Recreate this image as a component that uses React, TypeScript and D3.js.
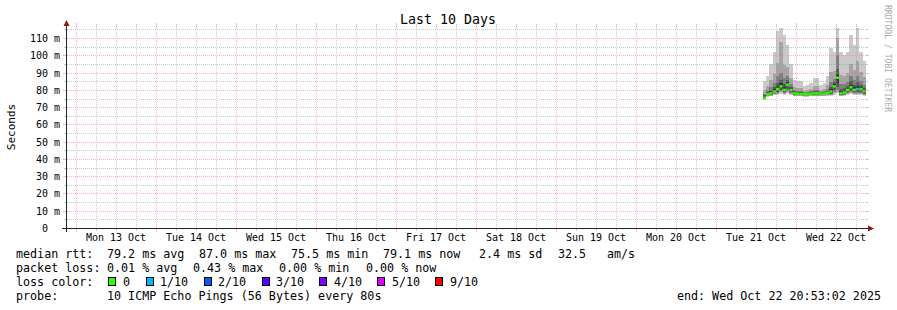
import React from 'react';
import * as d3 from 'd3';

// ---------- data ----------
const startTime = new Date(2025, 9, 12, 20, 53, 2);
const endTime = new Date(2025, 9, 22, 20, 53, 2);
const dataStart = new Date(2025, 9, 21, 14, 0, 0); // hourly columns from here

// sorted ping values per column (ms): p10 (max) ... p1 (min)
const pingMax = [85, 88, 95, 102, 114, 116, 112, 106, 95, 86, 85, 85, 82, 83, 84, 87, 87, 83, 84, 88, 104, 102, 116, 102, 100, 102, 112, 106, 116, 102, 97];
const ping9 = [79.8, 82.2, 85.7, 89.4, 95.6, 108, 94.4, 93.4, 86.8, 81.6, 81, 80.9, 79.5, 80, 80.6, 82, 82, 80.1, 80.6, 82.6, 90.2, 91, 110, 88.8, 88.2, 89.9, 95.2, 91.7, 96.5, 90.2, 87.2];
const ping8 = [77.6, 79.8, 81.7, 84.1, 87.9, 89.5, 87, 88.1, 83.3, 79.8, 79.4, 79.2, 78.5, 78.7, 79.2, 80, 80, 79, 79.2, 80.4, 84.5, 86.4, 100, 83.3, 83.2, 84.8, 88.2, 85.7, 88.3, 85.2, 83.1];
const ping7 = [76.8, 78.8, 79.5, 81.6, 84.2, 85.7, 83.5, 85.6, 81.8, 79.1, 78.8, 78.6, 78.3, 78.4, 78.7, 79.2, 79.2, 78.6, 78.7, 79.5, 81.8, 84.3, 92, 80.7, 81, 82.5, 84.9, 82.9, 84.4, 83, 81.2];
const ping6 = [76.3, 78.3, 79.1, 80.3, 82.2, 83.8, 81.7, 84.3, 81, 78.7, 78.5, 78.3, 78.1, 78.1, 78.4, 78.8, 78.8, 78.4, 78.4, 79, 80.4, 83.2, 89, 79.4, 79.8, 81.3, 83.1, 81.4, 82.3, 81.8, 80.2];
const ping5 = [75.3, 77.2, 77.6, 78.6, 79.8, 81.2, 79.5, 82, 79.5, 77.6, 77.4, 77.2, 77.1, 77.1, 77.4, 77.6, 77.6, 77.4, 77.4, 77.8, 78.2, 81, 84, 77.6, 78, 79.2, 80.5, 79.2, 79.5, 79.8, 78.4];
const ping4 = [75, 76.8, 77.2, 78.2, 79, 80, 78.8, 80.5, 78.8, 77.3, 77.1, 77, 76.9, 76.9, 77.1, 77.3, 77.3, 77.1, 77.1, 77.4, 77.8, 79.8, 81.5, 77.2, 77.6, 78.6, 79.5, 78.6, 78.8, 79, 77.9];
const ping3 = [74.8, 76.5, 76.9, 77.8, 78.4, 79.2, 78.2, 79.4, 78.2, 77, 76.9, 76.8, 76.7, 76.7, 76.9, 77, 77, 76.9, 76.9, 77.1, 77.4, 78.8, 80, 76.9, 77.3, 78.1, 78.8, 78.1, 78.2, 78.4, 77.5];
const ping2 = [74.5, 76.2, 76.6, 77.4, 77.8, 78.5, 77.6, 78.5, 77.6, 76.7, 76.6, 76.5, 76.4, 76.4, 76.6, 76.7, 76.7, 76.6, 76.6, 76.8, 77, 78, 79, 76.6, 77, 77.6, 78.2, 77.6, 77.6, 77.8, 77.1];
const pingMin = [74.2, 75.8, 76.2, 77, 77.2, 77.8, 77, 77.6, 77, 76.3, 76.3, 76.2, 76.1, 76.1, 76.2, 76.3, 76.3, 76.2, 76.2, 76.4, 76.6, 77.3, 78, 76.2, 76.6, 77.1, 77.6, 77.1, 77.1, 77.3, 76.7];
const medianRtt = [75.5, 77.5, 78.0, 79.0, 80.5, 82.0, 80.0, 83.0, 80.0, 78.0, 77.8, 77.6, 77.5, 77.5, 77.8, 78.0, 78.0, 77.8, 77.8, 78.2, 79.0, 82.0, 87.0, 78.0, 78.5, 80.0, 81.5, 80.0, 80.5, 80.5, 79.1];
const lossCount = [0, 0, 0, 0, 0, 0, 0, 0, 0, 0, 0, 0, 0, 0, 0, 0, 0, 0, 0, 0, 0, 0, 0, 0, 0, 0, 0, 0, 1, 0, 0];

const yTickValues = [0, 10, 20, 30, 40, 50, 60, 70, 80, 90, 100, 110];
const yTickLabels = ['0', '10 m', '20 m', '30 m', '40 m', '50 m', '60 m', '70 m', '80 m', '90 m', '100 m', '110 m'];
const yMinorValues = [5, 15, 25, 35, 45, 55, 65, 75, 85, 95, 105, 115];

const lossLabels = ['0', '1/10', '2/10', '3/10', '4/10', '5/10', '9/10'];
const lossColors = ['#26ff00', '#00b8ff', '#0059ff', '#5e00ff', '#7e00ff', '#dd00ff', '#ff0000'];
const lossSwatchX = [108, 146, 204, 262, 319, 377, 435];
const lossTextX = [123, 160, 218, 276, 334, 392, 450];

const smokeColors = ['#cacaca', '#a4a4a4', '#7e7e7e', '#585858', '#323232'];

const FONT = "'DejaVu Sans Mono', monospace";

export default function App() {
  const x = d3.scaleTime().domain([startTime, endTime]).range([65.6, 865.6]);
  const y = d3.scaleLinear().domain([0, 117]).range([228, 26]);

  const n = medianRtt.length;
  const colStart = d3.range(n).map((k) => d3.timeHour.offset(dataStart, k));
  const colEnd = d3.range(n).map((k) => {
    const e = d3.timeHour.offset(dataStart, k + 1);
    return e > endTime ? endTime : e;
  });

  const bands: [number[], number[]][] = [
    [pingMin, pingMax],
    [ping2, ping9],
    [ping3, ping8],
    [ping4, ping7],
    [ping5, ping6],
  ];

  const days = d3.timeDay.range(d3.timeDay.ceil(startTime), endTime);
  const sixHours = d3.timeHour.every(6)!.range(startTime, endTime).filter((d) => d.getHours() !== 0);
  const noons = days.map((d) => d3.timeHour.offset(d, 12)).filter((d) => d < endTime);
  const fmt = d3.timeFormat('%a %d %b');

  const crisp = (v: number) => Math.round(v) + 0.5;
  const GX0 = 67, GX1 = 866, Y0 = 228, Y1 = 26;
  const minorCol = 'rgba(150,150,150,0.5)';
  const majorCol = 'rgba(255,120,120,0.55)';

  return (
    <svg width={897} height={310} style={{ position: 'absolute', left: 0, top: 0, background: '#fff' }}>
      <rect x={0} y={0} width={897} height={310} fill="#fff" />

      {/* smoke */}
      {bands.map(([lo, hi], b) => (
        <g key={'b' + b}>
          {d3.range(n).map((k) => {
            const x0 = x(colStart[k]);
            const x1 = x(colEnd[k]);
            return (
              <rect key={k} x={x0} y={y(hi[k])} width={x1 - x0} height={y(lo[k]) - y(hi[k])} fill={smokeColors[b]} shapeRendering="crispEdges" />
            );
          })}
        </g>
      ))}

      {/* median */}
      {d3.range(n).map((k) => {
        const x0 = x(colStart[k]);
        const x1 = x(colEnd[k]);
        return (
          <rect key={'m' + k} x={x0} y={y(medianRtt[k]) - 1.25} width={x1 - x0} height={2.5} fill={lossColors[lossCount[k]]} />
        );
      })}

      {/* grid */}
      <g strokeWidth={1}>
        {yMinorValues.map((v) => (
          <g key={'ym' + v}>
            <line x1={GX0} x2={GX1} y1={crisp(y(v))} y2={crisp(y(v))} stroke={minorCol} strokeDasharray="1,1" />
            <line x1={64} x2={66} y1={crisp(y(v))} y2={crisp(y(v))} stroke={minorCol} />
            <line x1={866} x2={868} y1={crisp(y(v))} y2={crisp(y(v))} stroke={minorCol} />
          </g>
        ))}
        {sixHours.map((d) => (
          <g key={'xm' + d.getTime()}>
            <line x1={crisp(x(d))} x2={crisp(x(d))} y1={Y1} y2={Y0} stroke={minorCol} strokeDasharray="1,1" />
            <line x1={crisp(x(d))} x2={crisp(x(d))} y1={Y0 + 1} y2={Y0 + 3} stroke={minorCol} />
            <line x1={crisp(x(d))} x2={crisp(x(d))} y1={Y1 - 2} y2={Y1} stroke={minorCol} />
          </g>
        ))}
        {yTickValues.filter((v) => v > 0).map((v) => (
          <g key={'yM' + v}>
            <line x1={GX0} x2={GX1} y1={crisp(y(v))} y2={crisp(y(v))} stroke={majorCol} strokeDasharray="1,1" />
            <line x1={63} x2={66} y1={crisp(y(v))} y2={crisp(y(v))} stroke={majorCol} />
            <line x1={866} x2={869} y1={crisp(y(v))} y2={crisp(y(v))} stroke={majorCol} />
          </g>
        ))}
        {days.map((d) => (
          <g key={'xM' + d.getTime()}>
            <line x1={crisp(x(d))} x2={crisp(x(d))} y1={Y1} y2={Y0} stroke={majorCol} strokeDasharray="1,1" />
            <line x1={crisp(x(d))} x2={crisp(x(d))} y1={Y0 + 1} y2={Y0 + 4} stroke={majorCol} />
            <line x1={crisp(x(d))} x2={crisp(x(d))} y1={Y1 - 3} y2={Y1} stroke={majorCol} />
          </g>
        ))}
      </g>

      {/* axes */}
      <line x1={62} x2={869} y1={228.5} y2={228.5} stroke="#222" strokeWidth={1} />
      <line x1={66.5} x2={66.5} y1={232} y2={24} stroke="#222" strokeWidth={1} />
      <polygon points="868,225.5 874,228.5 868,231.5" fill="#8b1a1a" />
      <polygon points="63.5,26 66.5,20 69.5,26" fill="#8b1a1a" />

      {/* axis labels */}
      <g fontFamily={FONT} fontSize={10} fill="#000">
        {yTickValues.map((v, i) => (
          <text key={'yl' + v} x={v === 0 ? 48 : 60} y={crisp(y(v)) + 3.5} textAnchor="end">
            {yTickLabels[i]}
          </text>
        ))}
        {noons.map((d) => (
          <text key={'xl' + d.getTime()} x={x(d)} y={241} textAnchor="middle">
            {fmt(d)}
          </text>
        ))}
      </g>

      {/* title */}
      <text x={448} y={24} textAnchor="middle" fontFamily={FONT} fontSize={13.3} fill="#000">
        Last 10 Days
      </text>

      {/* y axis title */}
      <text transform="translate(14.5,127) rotate(-90)" textAnchor="middle" fontFamily={FONT} fontSize={11} fill="#000">
        Seconds
      </text>

      {/* watermark */}
      <text transform="translate(885,5) rotate(90)" fontFamily={FONT} fontSize={8.1} fill="#aaa">
        RRDTOOL / TOBI OETIKER
      </text>

      {/* legend */}
      <g fontFamily={FONT} fontSize={11.7} fill="#000" style={{ whiteSpace: 'pre' }}>
        <text x={16} y={258}>median rtt:</text>
        <text x={107} y={258}>79.2 ms avg</text>
        <text x={199} y={258}>87.0 ms max</text>
        <text x={291} y={258}>75.5 ms min</text>
        <text x={383} y={258}>79.1 ms now</text>
        <text x={479} y={258}>2.4 ms sd</text>
        <text x={558} y={258}>32.5</text>
        <text x={607} y={258}>am/s</text>

        <text x={16} y={272}>packet loss:</text>
        <text x={107} y={272}>0.01 % avg</text>
        <text x={193} y={272}>0.43 % max</text>
        <text x={279} y={272}>0.00 % min</text>
        <text x={366} y={272}>0.00 % now</text>

        <text x={16} y={286}>loss color:</text>
        {lossLabels.map((l, i) => (
          <g key={'lc' + i}>
            <rect x={lossSwatchX[i] + 0.5} y={277.5} width={7} height={8} fill={lossColors[i]} stroke="#000" strokeWidth={1} />
            <text x={lossTextX[i]} y={286}>{l}</text>
          </g>
        ))}

        <text x={16} y={300}>probe:</text>
        <text x={107} y={300}>10 ICMP Echo Pings (56 Bytes) every 80s</text>
        <text x={881} y={300} textAnchor="end">end: Wed Oct 22 20:53:02 2025</text>
      </g>
    </svg>
  );
}
